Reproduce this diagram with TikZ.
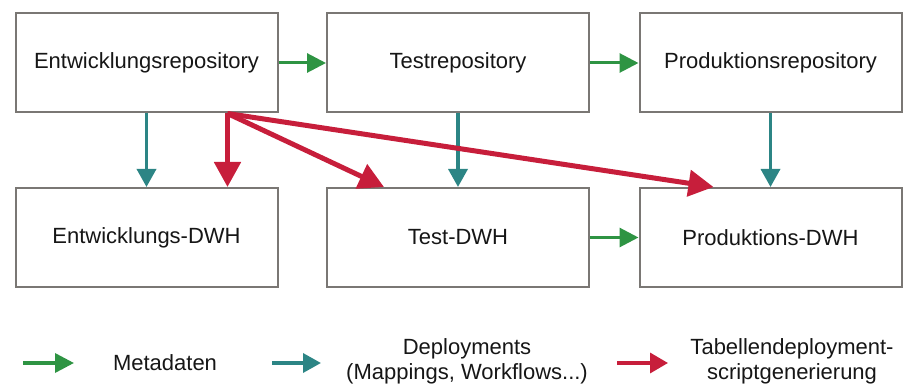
\documentclass[tikz,border=0pt]{standalone}
\usepackage{fontspec}
\setmainfont{Liberation Sans}
\usetikzlibrary{arrows.meta,calc}

\definecolor{metagreen}{HTML}{2E9443}
\definecolor{deployteal}{HTML}{2C8585}
\definecolor{scriptred}{HTML}{C71E3B}
\definecolor{boxgray}{HTML}{7A7774}
\definecolor{txtgray}{HTML}{161616}

\tikzset{
  repobox/.style={draw=boxgray, line width=2pt, fill=white,
    minimum width=262pt, minimum height=99pt, inner sep=0pt,
    font=\fontsize{22}{25}\selectfont, text=txtgray},
  legtext/.style={font=\fontsize{22}{25}\selectfont, text=txtgray,
    align=center, inner sep=0pt},
  metaflow/.style={draw=metagreen, line width=3pt,
    -{Triangle[length=19pt,width=19pt]}, metagreen},
  deployflow/.style={draw=deployteal, line width=3.5pt,
    -{Triangle[length=18pt,width=19pt]}, deployteal},
  scriptflow/.style={draw=scriptred, line width=5pt,
    -{Triangle[length=25pt,width=26pt]}, scriptred},
}

\begin{document}
\begin{tikzpicture}[x=1pt,y=-1pt]
  \useasboundingbox (0,0) rectangle (914,385);

  % repositories
  \node[repobox] (r1) at (146.5,63) {Entwicklungsrepository};
  \node[repobox] (r2) at (458,63)   {Testrepository};
  \node[repobox] (r3) at (770.5,63) {Produktionsrepository};

  % data warehouses
  \node[repobox] (d1) at (146.5,237.5) {Entwicklungs-DWH};
  \node[repobox] (d2) at (458,237.5)   {Test-DWH};
  \node[repobox] (d3) at (770.5,237.5) {Produktions-DWH};

  % metadata transfer
  \draw[metaflow] (r1.east) -- (r2.west);
  \draw[metaflow] (r2.east) -- (r3.west);
  \draw[metaflow] (d2.east) -- (d3.west);

  % deployments
  \draw[deployflow] (r1.south) -- (d1.north);
  \draw[deployflow] (r2.south) -- (d2.north);
  \draw[deployflow] (r3.south) -- (d3.north);

  % table deployment script generation
  \coordinate (src) at ($(r1.south)+(81,0)$);
  \coordinate (t1) at ($(d1.north)+(81,0)$);
  \coordinate (t2) at ($(d2.north west)+(58,0)$);
  \coordinate (t3) at ($(d3.north west)+(75,0)$);
  \draw[scriptflow] (src) -- (t3);
  \draw[scriptflow] (src) -- (t2);
  \draw[scriptflow] (src) -- (t1);

  % legend
  \coordinate (lg1a) at (23,363);  \coordinate (lg1b) at (74,363);
  \coordinate (lg2a) at (272,363); \coordinate (lg2b) at (321,363);
  \coordinate (lg3a) at (617,363); \coordinate (lg3b) at (668,363);
  \draw[metaflow, line width=3.5pt] (lg1a) -- (lg1b);
  \draw[deployflow] (lg2a) -- (lg2b);
  \draw[scriptflow, line width=3.5pt, -{Triangle[length=18pt,width=20pt]}] (lg3a) -- (lg3b);

  \node[legtext] (lt1) at (165,363) {Metadaten};
  \node[legtext] (lt2) at (467,361.5) {Deployments\\(Mappings, Workflows...)};
  \node[legtext] (lt3) at (792,361.5) {Tabellendeployment-\\scriptgenerierung};
\end{tikzpicture}
\end{document}
